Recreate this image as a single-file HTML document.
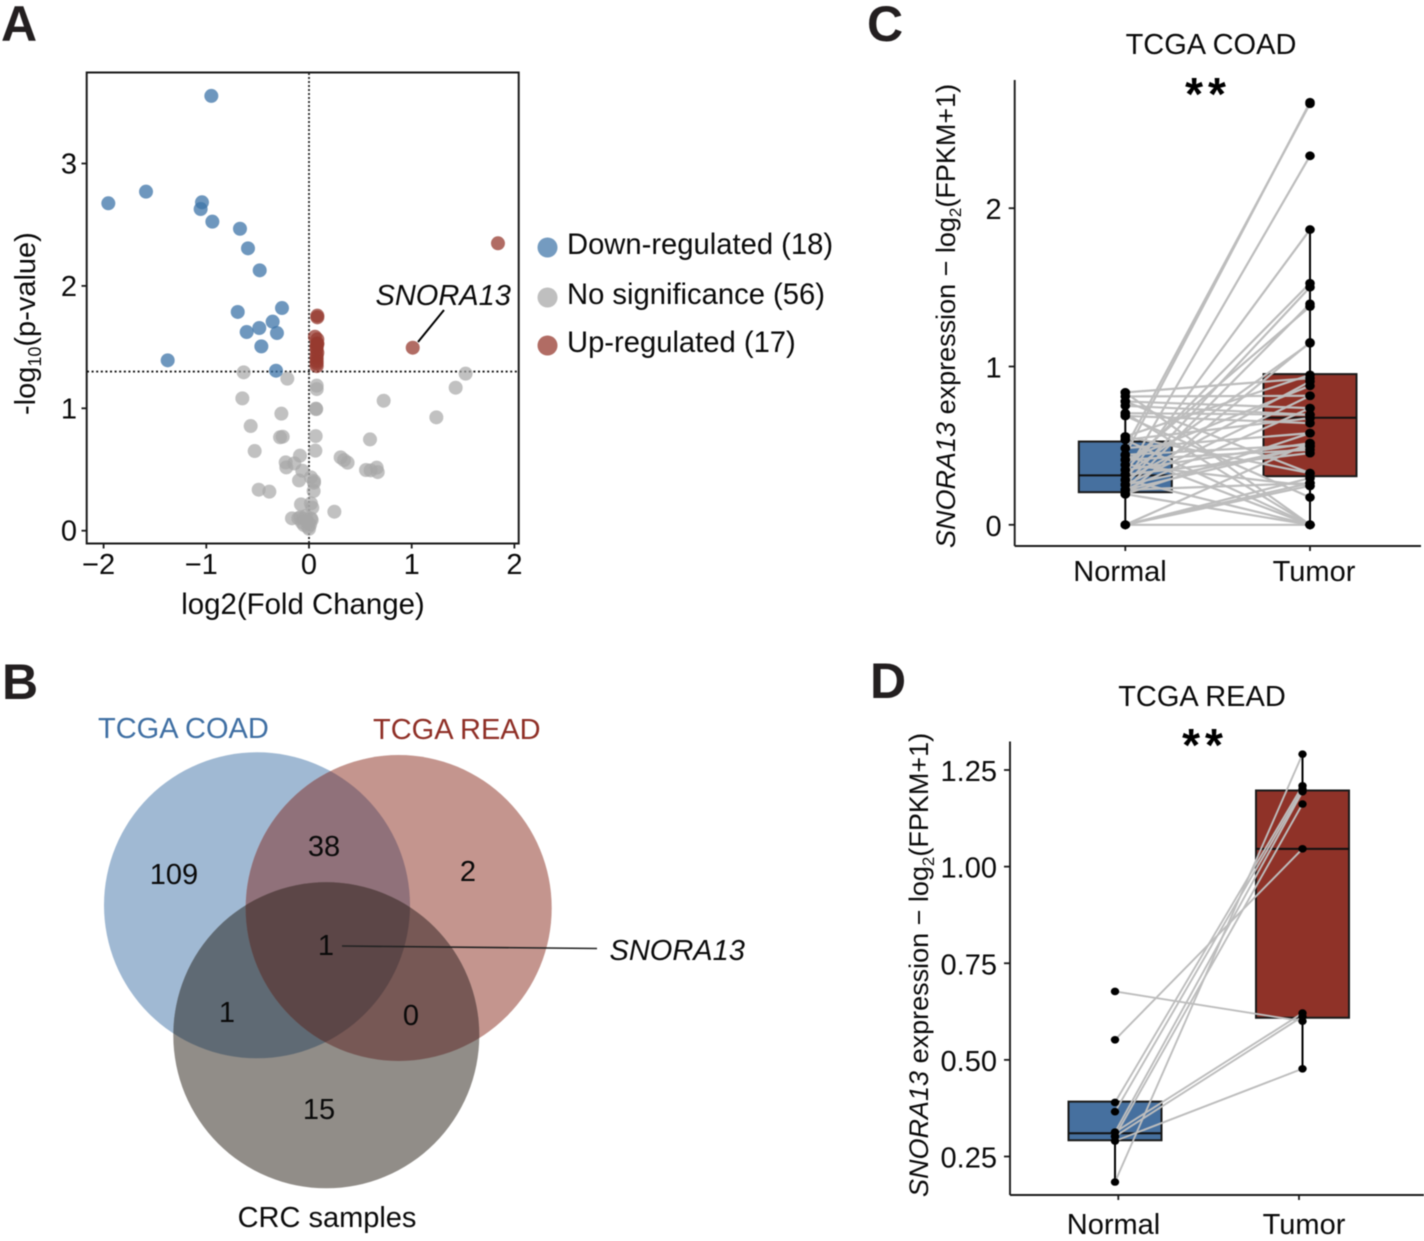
<!DOCTYPE html>
<html lang="en">
<head>
<meta charset="utf-8">
<title>SNORA13 expression figure</title>
<style>
html,body{margin:0;padding:0;background:#fff;}
svg{display:block;font-family:"Liberation Sans",Arial,sans-serif;fill:#0a0a0a;}
svg text{font-size:29px;}
svg text.ylab{font-size:27px;}
.letter{font-size:50px;font-weight:bold;fill:#231f20;}
svg text.letter{font-size:50px;}
svg text.stars{font-size:46px;font-weight:bold;letter-spacing:5px;fill:#000;text-anchor:middle;}
.mid{text-anchor:middle;}
.ital{font-style:italic;}
</style>
</head>
<body>
<svg id="fig" xmlns="http://www.w3.org/2000/svg" width="1424" height="1241" viewBox="0 0 1424 1241" style="filter:blur(0.45px)">
  <defs>
    <clipPath id="clipA"><circle cx="257" cy="905.3" r="153"/></clipPath>
    <clipPath id="clipB"><circle cx="398.7" cy="908" r="153"/></clipPath>
  </defs>
  <text class="letter" x="1" y="41">A</text>
  <text class="letter" x="2" y="699">B</text>
  <text class="letter" x="867" y="41">C</text>
  <text class="letter" x="870" y="698">D</text>

  <!-- Panel A -->
  <g id="volcano"></g>
  <text class="mid" x="303" y="614" style="font-size:29.4px">log2(Fold Change)</text>
  <text transform="translate(35,415) rotate(-90)">-log<tspan style="font-size:18px" dy="6">10</tspan><tspan dy="-6">(p-value)</tspan></text>
  <text class="ital" x="375.5" y="305">SNORA13</text>
  <line x1="444" y1="310" x2="418" y2="342" stroke="#000" stroke-width="2"/>
  <g>
    <circle cx="547.5" cy="247.5" r="10" fill="#3e74a8" fill-opacity=".72"/>
    <text x="567" y="254" style="font-size:29.2px">Down-regulated (18)</text>
    <circle cx="547.5" cy="297.5" r="10" fill="#a6a6a6" fill-opacity=".72"/>
    <text x="567" y="304" style="font-size:29.2px">No significance (56)</text>
    <circle cx="547.5" cy="345.5" r="10" fill="#973b30" fill-opacity=".75"/>
    <text x="567" y="352" style="font-size:29.2px">Up-regulated (17)</text>
  </g>

  <!-- Panel B -->
  <g>
    <circle cx="257" cy="905.3" r="153" fill="#a0b9d3"/>
    <circle cx="398.7" cy="908" r="153" fill="#c4958e"/>
    <circle cx="326.3" cy="1035.3" r="153" fill="#918d88"/>
    <circle cx="398.7" cy="908" r="153" fill="#90717a" clip-path="url(#clipA)"/>
    <circle cx="326.3" cy="1035.3" r="153" fill="#5f6a74" clip-path="url(#clipA)"/>
    <circle cx="326.3" cy="1035.3" r="153" fill="#775855" clip-path="url(#clipB)"/>
    <g clip-path="url(#clipA)"><circle cx="326.3" cy="1035.3" r="153" fill="#5c4647" clip-path="url(#clipB)"/></g>
    <text x="98" y="738" style="fill:#3f6fa3">TCGA COAD</text>
    <text x="373" y="739" style="fill:#8f2f26">TCGA READ</text>
    <text class="mid" x="174" y="884">109</text>
    <text class="mid" x="324" y="856">38</text>
    <text class="mid" x="468" y="881">2</text>
    <text class="mid" x="326" y="955">1</text>
    <text class="mid" x="227" y="1022">1</text>
    <text class="mid" x="411" y="1025">0</text>
    <text class="mid" x="319" y="1119">15</text>
    <text class="mid" x="327" y="1227">CRC samples</text>
    <line x1="342" y1="946" x2="597" y2="948.5" stroke="#222" stroke-width="1.6"/>
    <text class="ital" x="609.5" y="960">SNORA13</text>
  </g>

  <!-- Panel C -->
  <g id="panelC"></g>
  <text class="mid" x="1211" y="54">TCGA COAD</text>
  <text class="stars" x="1208" y="110">**</text>
  <text class="ylab" transform="translate(955,548) rotate(-90)"><tspan class="ital">SNORA13</tspan> expression − log<tspan style="font-size:17px" dy="6">2</tspan><tspan dy="-6">(FPKM+1)</tspan></text>

  <!-- Panel D -->
  <g id="panelD"></g>
  <text class="mid" x="1202" y="706">TCGA READ</text>
  <text class="stars" x="1205" y="761">**</text>
  <text class="ylab" transform="translate(928,1197) rotate(-90)"><tspan class="ital">SNORA13</tspan> expression − log<tspan style="font-size:17px" dy="6">2</tspan><tspan dy="-6">(FPKM+1)</tspan></text>
</svg>

<script>
// ---- Volcano data (log2 fold change, -log10 p) ----
const downX = [-0.951,-1.587,-1.954,-1.042,-1.055,-0.941,-0.672,-0.594,-0.480,-0.263,-0.694,-0.354,-0.484,-0.607,-0.312,-0.464,-1.376,-0.321];
const downY = [3.552,2.770,2.675,2.683,2.628,2.525,2.467,2.307,2.127,1.819,1.787,1.708,1.656,1.623,1.615,1.506,1.392,1.307];
const upX = [1.840,1.010,0.081,0.081,0.058,0.081,0.081,0.081,0.081,0.075,0.075,0.075,0.075,0.075,0.075,0.075,0.075];
const upY = [2.348,1.495,1.757,1.743,1.585,1.564,1.531,1.523,1.454,1.480,1.430,1.408,1.386,1.367,1.345,1.520,1.500];
const noneX = [-0.636,-0.211,-0.649,-0.269,-0.568,-0.282,-0.256,-0.529,-0.088,-0.227,-0.143,-0.221,-0.065,-0.097,-0.490,-0.386,-0.078,0.019,0.032,-0.166,-0.104,-0.055,-0.023,0.026,-0.049,0,-0.006,0.247,0.075,0.075,0.068,0.070,0.065,0.062,0.019,0.049,0.049,0.045,0.308,0.341,0.376,0.555,0.600,0.659,0.669,0.594,0.727,1.240,1.428,1.525,-0.085,-0.030,0.020,-0.070,0.010,-0.010];
const noneY = [1.294,1.242,1.081,0.956,0.855,0.763,0.768,0.651,0.613,0.558,0.550,0.517,0.490,0.411,0.335,0.319,0.215,0.223,0.188,0.101,0.101,0.101,0.087,0.087,0.046,0.016,0.060,0.155,1.185,1.157,0.997,0.993,0.773,0.654,0.436,0.406,0.392,0.324,0.599,0.577,0.556,0.496,0.493,0.515,0.479,0.746,1.062,0.926,1.168,1.283,0.110,0.120,0.100,0.070,0.050,0.030];
const volcanoXTicks = [-2,-1,0,1,2];
const volcanoYTicks = [0,1,2,3];
const pThreshold = 1.3;

// ---- COAD paired values ----
const coadNormal = [0.442,0.316,0.284,0.347,0.253,0.221,0.379,0.194,0.316,0.558,0.836,0.284,0.411,0.811,0.253,0.779,0.221,0.752,0.537,0.705,0.688,0.194,0.484,0.347,0.253,0.221,0,0.411,0.316,0.558,0.779,0.705,0.836,0.688,0.537,0.442,0.284,0.194,0,0,0,0,0.221,0.379,0.442,0.484];
const coadTumor = [2.669,2.331,1.865,1.526,1.501,1.396,1.379,1.152,1.147,0.947,0.926,0.905,0.878,0.815,0.815,0.737,0.737,0.695,0.674,0.695,0.642,0.579,0.579,0.516,0.495,0.495,0.516,0.474,0.453,0.326,0.326,0,0,0.173,0,0,0,0,0,0.263,0.295,0.246,0.263,0.246,0.505,2.660];
const coadQ1 = [0.206,0.307];
const coadMedian = [0.312,0.676];
const coadQ3 = [0.526,0.952];
const coadWhiskerLow = [0,0];
const coadWhiskerHigh = [0.836,1.865];
const coadYTicks = [0,1,2];

// ---- READ paired values ----
const readNormal = [0.184,0.390,0.366,0.313,0.302,0.552,0.677,0.313,0.302,0.290];
const readTumor = [1.291,1.209,1.200,1.194,1.162,1.046,0.600,0.621,0.612,0.477];
const readQ1 = [0.292,0.609];
const readMedian = [0.310,1.046];
const readQ3 = [0.392,1.197];
const readWhiskerLow = [0.184,0.477];
const readWhiskerHigh = [0.392,1.291];
const readYTicks = [0.25,0.5,0.75,1.0,1.25];
const readYTickLabels = ['0.25','0.50','0.75','1.00','1.25'];

const groupLabels = ['Normal','Tumor'];

// ---- drawing helpers ----
const NS = 'http://www.w3.org/2000/svg';
function add(parent, tag, attrs, name, text) {
  const el = document.createElementNS(NS, tag);
  for (const k in attrs) el.setAttribute(k, attrs[k]);
  
  
  if (text !== undefined) el.textContent = text;
  parent.appendChild(el);
  return el;
}

// ---- Panel A ----
const vx = v => 309 + v * 102.7;
const vy = v => 530.7 - v * 122.4;
(function () {
  const g = document.getElementById('volcano');
  add(g, 'rect', {x:86.7, y:72.5, width:432, height:471, fill:'none', stroke:'#1a1a1a', 'stroke-width':2}, 'plot-frame');
  volcanoXTicks.forEach(t => {
    add(g, 'line', {x1:vx(t), x2:vx(t), y1:543.5, y2:548.5, stroke:'#1a1a1a', 'stroke-width':1.8}, 'x-tick');
    add(g, 'text', {x:vx(t)-(t<0?5:0), y:574, 'text-anchor':'middle'}, 'x-tick-label', t < 0 ? '−' + (-t) : String(t));
  });
  volcanoYTicks.forEach(t => {
    add(g, 'line', {x1:81.5, x2:86.7, y1:vy(t), y2:vy(t), stroke:'#1a1a1a', 'stroke-width':1.8}, 'y-tick');
    add(g, 'text', {x:77, y:vy(t)+10, 'text-anchor':'end'}, 'y-tick-label', String(t));
  });
  add(g, 'line', {x1:vx(0), x2:vx(0), y1:73, y2:543, stroke:'#222', 'stroke-width':1.8, 'stroke-dasharray':'2 2'}, 'zero-fold-change-line');
  add(g, 'line', {x1:87, x2:518, y1:vy(pThreshold), y2:vy(pThreshold), stroke:'#111', 'stroke-width':1.9, 'stroke-dasharray':'2 2.6'}, 'p-threshold-line');
  noneX.forEach((x, i) => add(g, 'circle', {cx:vx(x), cy:vy(noneY[i]), r:7, fill:'#a6a6a6', 'fill-opacity':.7}, 'point-no-significance'));
  downX.forEach((x, i) => add(g, 'circle', {cx:vx(x), cy:vy(downY[i]), r:7, fill:'#3e74a8', 'fill-opacity':.75}, 'point-down-regulated'));
  upX.forEach((x, i) => add(g, 'circle', {cx:vx(x), cy:vy(upY[i]), r:7, fill:'#973b30', 'fill-opacity':.75}, 'point-up-regulated'));
})();

// ---- Panels C, D ----
function pairedBox(o) {
  const g = o.g, cat = i => o.catX[i], y = o.y;
  const fills = ['#46709f', '#8f3228'];
  [0, 1].forEach(i => {
    add(g, 'line', {x1:cat(i), x2:cat(i), y1:y(o.wLow[i]), y2:y(o.wHigh[i]), stroke:'#000', 'stroke-width':2}, groupLabels[i].toLowerCase() + '-whisker');
    add(g, 'rect', {x:cat(i)-46.5, y:y(o.q3[i]), width:93, height:y(o.q1[i])-y(o.q3[i]), fill:fills[i], stroke:'#1a1a1a', 'stroke-width':2}, groupLabels[i].toLowerCase() + '-box');
    add(g, 'line', {x1:cat(i)-46.5, x2:cat(i)+46.5, y1:y(o.med[i]), y2:y(o.med[i]), stroke:'#111', 'stroke-width':2}, groupLabels[i].toLowerCase() + '-median');
  });
  o.a.forEach((v, i) => add(g, 'line', {x1:cat(0), y1:y(v), x2:cat(1), y2:y(o.b[i]), stroke:'#bdbdbd', 'stroke-width':o.lw}, 'paired-line'));
  o.a.forEach(v => add(g, 'ellipse', {cx:cat(0), cy:y(v), rx:o.r+0.4, ry:o.r, fill:'#000'}, 'normal-point'));
  o.b.forEach(v => add(g, 'ellipse', {cx:cat(1), cy:y(v), rx:o.r+0.4, ry:o.r, fill:'#000'}, 'tumor-point'));
  // axes
  add(g, 'line', {x1:o.axX, x2:o.axX, y1:o.axTop, y2:o.axY, stroke:'#1a1a1a', 'stroke-width':1.9}, 'y-axis-line');
  add(g, 'line', {x1:o.axX, x2:o.axRight, y1:o.axY, y2:o.axY, stroke:'#1a1a1a', 'stroke-width':1.9}, 'x-axis-line');
  o.ticks.forEach((t, i) => {
    add(g, 'line', {x1:o.axX-6, x2:o.axX, y1:y(t), y2:y(t), stroke:'#1a1a1a', 'stroke-width':1.8}, 'y-tick');
    add(g, 'text', {x:o.axX-13, y:y(t)+11, 'text-anchor':'end'}, 'y-tick-label', o.tickLabels ? o.tickLabels[i] : String(t));
  });
  groupLabels.forEach((l, i) => {
    add(g, 'line', {x1:o.tickX[i], x2:o.tickX[i], y1:o.axY, y2:o.axY+5, stroke:'#1a1a1a', 'stroke-width':1.8}, 'x-tick');
    add(g, 'text', {x:o.labelX[i], y:o.labelY, 'text-anchor':'middle'}, 'x-tick-label', l);
  });
}

pairedBox({
  g: document.getElementById('panelC'),
  catX: [1125.3, 1310], tickX: [1125.3, 1310], labelX: [1120, 1314], labelY: 581,
  y: v => 524.8 - v * 158.3,
  a: coadNormal, b: coadTumor, q1: coadQ1, med: coadMedian, q3: coadQ3, wLow: coadWhiskerLow, wHigh: coadWhiskerHigh,
  ticks: coadYTicks, axX: 1014.7, axTop: 80, axY: 546, axRight: 1421, r: 4.4, lw: 2.2
});
pairedBox({
  g: document.getElementById('panelD'),
  catX: [1115, 1302.5], tickX: [1118.3, 1299], labelX: [1113.5, 1304], labelY: 1234,
  y: v => 1156.5 - (v - 0.25) * 386.5,
  a: readNormal, b: readTumor, q1: readQ1, med: readMedian, q3: readQ3, wLow: readWhiskerLow, wHigh: readWhiskerHigh,
  ticks: readYTicks, tickLabels: readYTickLabels, axX: 1010, axTop: 741.5, axY: 1195, axRight: 1424, r: 3.8, lw: 1.9
});
</script>
</body>
</html>
